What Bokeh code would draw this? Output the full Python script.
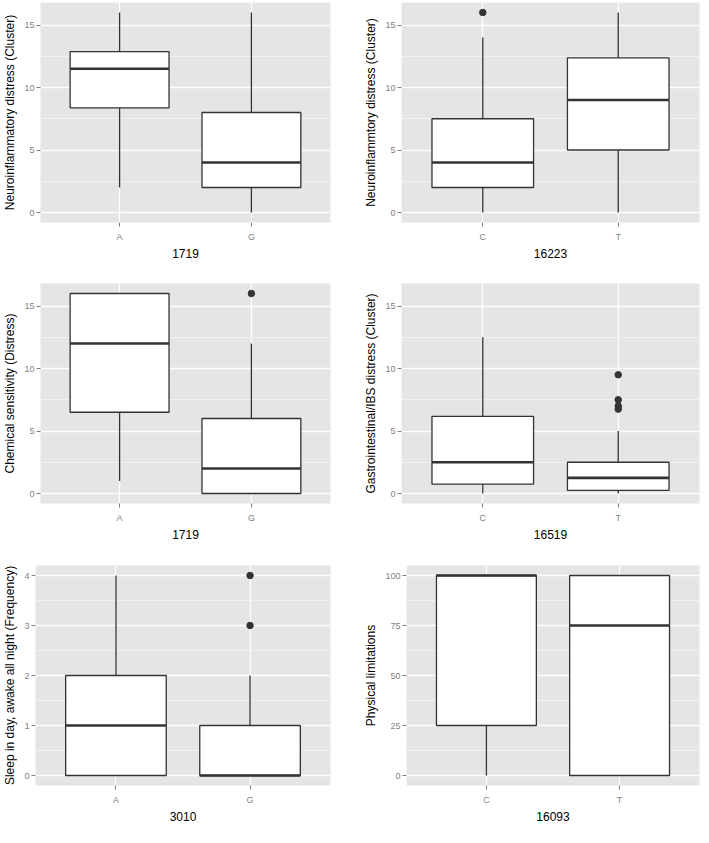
from bokeh.plotting import figure
from bokeh.models import FactorRange, Range1d, FixedTicker, ColumnDataSource
from bokeh.transform import dodge
from bokeh.layouts import column, row
from bokeh.embed import file_html
from bokeh.resources import INLINE

# ---- Panel 1: 1719 / Neuroinflammatory distress
p1_cats = ["A", "G"]
p1_low = [2, 0]
p1_q1 = [8.375, 2]
p1_med = [11.5, 4]
p1_q3 = [12.875, 8]
p1_high = [16, 16]
p1_out_x = []
p1_out_y = []

# ---- Panel 2: 16223 / Neuroinflammtory distress
p2_cats = ["C", "T"]
p2_low = [0, 0]
p2_q1 = [2, 5]
p2_med = [4, 9]
p2_q3 = [7.5, 12.375]
p2_high = [14, 16]
p2_out_x = ["C"]
p2_out_y = [16]

# ---- Panel 3: 1719 / Chemical sensitivity
p3_cats = ["A", "G"]
p3_low = [1, 0]
p3_q1 = [6.5, 0]
p3_med = [12, 2]
p3_q3 = [16, 6]
p3_high = [16, 12]
p3_out_x = ["G"]
p3_out_y = [16]

# ---- Panel 4: 16519 / Gastrointestinal/IBS distress
p4_cats = ["C", "T"]
p4_low = [0, 0]
p4_q1 = [0.75, 0.25]
p4_med = [2.5, 1.25]
p4_q3 = [6.17, 2.5]
p4_high = [12.5, 5]
p4_out_x = ["T", "T", "T", "T"]
p4_out_y = [9.5, 7.5, 7.0, 6.75]

# ---- Panel 5: 3010 / Sleep in day
p5_cats = ["A", "G"]
p5_low = [0, 0]
p5_q1 = [0, 0]
p5_med = [1, 0]
p5_q3 = [2, 1]
p5_high = [4, 2]
p5_out_x = ["G", "G"]
p5_out_y = [4, 3]

# ---- Panel 6: 16093 / Physical limitations
p6_cats = ["C", "T"]
p6_low = [0, 0]
p6_q1 = [25, 0]
p6_med = [100, 75]
p6_q3 = [100, 100]
p6_high = [100, 100]
p6_out_x = []
p6_out_y = []

ticks_16 = [0, 5, 10, 15]
minor_16 = [2.5, 7.5, 12.5]
ticks_4 = [0, 1, 2, 3, 4]
minor_4 = [0.5, 1.5, 2.5, 3.5]
ticks_100 = [0, 25, 50, 75, 100]
minor_100 = [12.5, 37.5, 62.5, 87.5]

FONT = "Liberation Sans"
BOX_LINE = "#333333"


def panel(cats, low, q1, med, q3, high, ox, oy, xlabel, ylabel, yrange,
          ticks, minor, width, height, bl, bt, br):
    xr = FactorRange(factors=cats, range_padding=0.1, range_padding_units="absolute")
    p = figure(x_range=xr, y_range=Range1d(*yrange), width=width, height=height,
               output_backend="svg", toolbar_location=None,
               min_border_left=bl, min_border_top=bt, min_border_right=br,
               min_border_bottom=40)
    src = ColumnDataSource(dict(x=cats, low=low, q1=q1, med=med, q3=q3, high=high))
    p.segment(x0="x", y0="q3", x1="x", y1="high", source=src, line_color=BOX_LINE, line_width=1.3)
    p.segment(x0="x", y0="q1", x1="x", y1="low", source=src, line_color=BOX_LINE, line_width=1.3)
    p.vbar(x="x", width=0.75, top="q3", bottom="q1", source=src,
           fill_color="white", line_color=BOX_LINE, line_width=1.3)
    p.segment(x0=dodge("x", -0.375, range=xr), y0="med",
              x1=dodge("x", 0.375, range=xr), y1="med",
              source=src, line_color=BOX_LINE, line_width=2.6)
    if ox:
        p.scatter(x=ox, y=oy, size=6.5, fill_color=BOX_LINE, line_color=BOX_LINE)

    p.background_fill_color = "#E5E5E5"
    p.border_fill_color = "white"
    p.outline_line_color = None

    p.yaxis.ticker = FixedTicker(ticks=ticks, minor_ticks=minor)
    p.xgrid.grid_line_color = "white"
    p.xgrid.grid_line_width = 1.3
    p.ygrid.grid_line_color = "white"
    p.ygrid.grid_line_width = 1.3
    p.ygrid.minor_grid_line_color = "#F2F2F2"
    p.ygrid.minor_grid_line_width = 1

    for ax in (p.xaxis[0], p.yaxis[0]):
        ax.axis_line_color = None
        ax.major_tick_line_color = "#7F7F7F"
        ax.major_tick_in = 0
        ax.major_tick_out = 4
        ax.minor_tick_line_color = None
        ax.major_label_text_color = "#7F7F7F"
        ax.major_label_text_font = FONT
        ax.major_label_text_font_size = "9px"
        ax.axis_label_text_font = FONT
        ax.axis_label_text_font_size = "12px"
        ax.axis_label_text_font_style = "normal"
        ax.axis_label_text_color = "black"
    p.xaxis.axis_label = xlabel
    p.yaxis.axis_label = ylabel
    p.xaxis.major_label_standoff = 5
    p.xaxis.axis_label_standoff = 4
    p.yaxis.major_label_standoff = 2
    p.yaxis.axis_label_standoff = 4
    return p


r16 = (-0.8, 16.8)
p1 = panel(p1_cats, p1_low, p1_q1, p1_med, p1_q3, p1_high, p1_out_x, p1_out_y,
           "1719", "Neuroinflammatory distress (Cluster)", r16, ticks_16, minor_16,
           338, 262, 32, 2, 8)
p2 = panel(p2_cats, p2_low, p2_q1, p2_med, p2_q3, p2_high, p2_out_x, p2_out_y,
           "16223", "Neuroinflammtory distress (Cluster)", r16, ticks_16, minor_16,
           362, 262, 63, 2, 1)
p3 = panel(p3_cats, p3_low, p3_q1, p3_med, p3_q3, p3_high, p3_out_x, p3_out_y,
           "1719", "Chemical sensitivity (Distress)", r16, ticks_16, minor_16,
           338, 281, 32, 21, 8)
p4 = panel(p4_cats, p4_low, p4_q1, p4_med, p4_q3, p4_high, p4_out_x, p4_out_y,
           "16519", "Gastrointestinal/IBS distress (Cluster)", r16, ticks_16, minor_16,
           362, 281, 63, 21, 1)
p5 = panel(p5_cats, p5_low, p5_q1, p5_med, p5_q3, p5_high, p5_out_x, p5_out_y,
           "3010", "Sleep in day, awake all night (Frequency)", (-0.2, 4.2), ticks_4, minor_4,
           338, 282, 26, 22, 8)
p6 = panel(p6_cats, p6_low, p6_q1, p6_med, p6_q3, p6_high, p6_out_x, p6_out_y,
           "16093", "Physical limitations", (-5, 105), ticks_100, minor_100,
           362, 282, 68, 22, 1)

layout = column(row(p1, p2), row(p3, p4), row(p5, p6))
open("out.html", "w").write(file_html(layout, INLINE))
